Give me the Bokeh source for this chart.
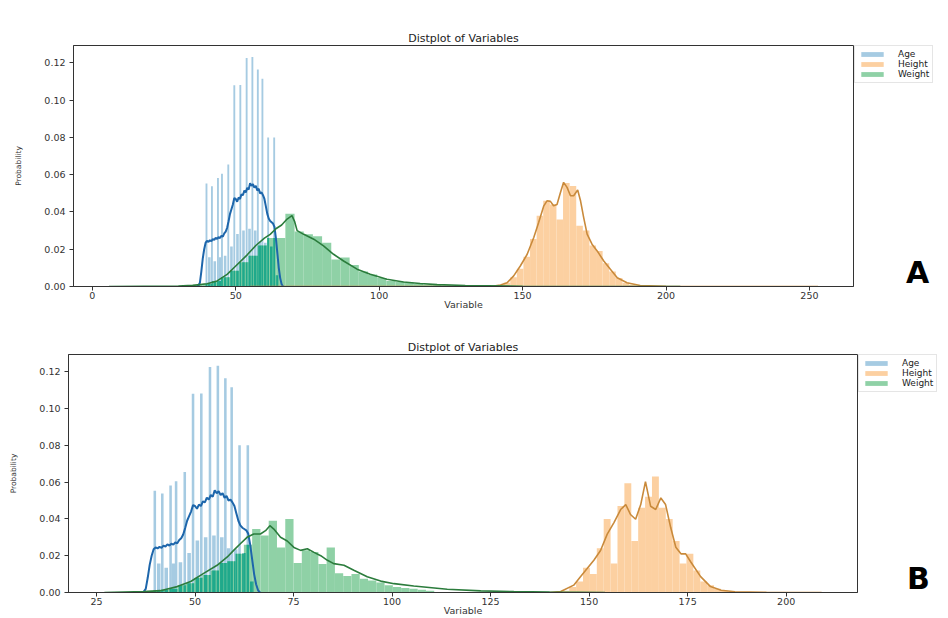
from bokeh.plotting import figure
from bokeh.layouts import column, row
from bokeh.models import (Range1d, FixedTicker, PrintfTickFormatter, Legend,
                          LegendItem, Label)
from bokeh.embed import file_html
from bokeh.resources import INLINE

# ---------------- Age (same sample in both panels) ----------------
# tall narrow bins holding a whole year of age, and the short bins between them
age_peak_x = [39.8, 41.7, 43.8, 45.2, 47.4, 49.5, 51.6, 53.8, 55.8, 57.7, 59.3, 61.3, 63.4]
age_peak_density = [0.0553, 0.0538, 0.0582, 0.0605, 0.0655, 0.1080, 0.1082,
                    0.1226, 0.1232, 0.1165, 0.1115, 0.0800, 0.0800]
age_mid_x = [40.8, 42.7, 44.5, 46.3, 48.5, 50.6, 52.7, 54.8, 56.8, 58.5, 60.3, 62.4, 64.4]
age_mid_density = [0.0157, 0.0135, 0.0157, 0.0165, 0.0215, 0.0282, 0.0300,
                   0.0310, 0.0300, 0.0240, 0.0235, 0.0215, 0.0060]
age_kde_x = [36.5, 37.0, 37.5, 38.0, 38.5, 39.0, 39.5, 40.0, 40.5, 41.0, 41.5, 42.0,
             42.5, 43.0, 43.5, 44.0, 44.5, 45.0, 45.5, 46.0, 46.5, 47.0, 47.5, 48.0,
             48.5, 49.0, 49.5, 50.0, 50.5, 51.0, 51.5, 52.0, 52.5, 53.0, 53.5, 54.0,
             54.5, 55.0, 55.5, 56.0, 56.5, 57.0, 57.5, 58.0, 58.5, 59.0, 59.5, 60.0,
             60.5, 61.0, 61.5, 62.0, 62.5, 63.0, 63.5, 64.0, 64.5, 65.0, 65.5, 66.0, 66.5]
age_kde_y = [0.0, 0.0005, 0.002, 0.008, 0.015, 0.020, 0.0235, 0.0245, 0.0240, 0.0248,
             0.0243, 0.0255, 0.0250, 0.0262, 0.0255, 0.0265, 0.0260, 0.0272, 0.0268,
             0.0285, 0.0295, 0.0315, 0.0350, 0.0390, 0.0415, 0.0440, 0.0475, 0.0470,
             0.0455, 0.0478, 0.0470, 0.0495, 0.0490, 0.0515, 0.0505, 0.0530, 0.0520,
             0.0555, 0.0540, 0.0550, 0.0530, 0.0540, 0.0515, 0.0525, 0.0500, 0.0505,
             0.0490, 0.0470, 0.0430, 0.0390, 0.0365, 0.0352, 0.0345, 0.0338, 0.0320,
             0.0260, 0.0180, 0.0100, 0.0045, 0.0012, 0.0]

# ---------------- Panel A: raw measurements ----------------
height_a_edges = [141.1, 143.4, 145.7, 148.0, 150.3, 152.6, 154.9, 157.2, 159.5, 161.8,
                  164.1, 166.4, 168.7, 171.0, 173.3, 175.6, 177.9, 180.2, 182.5, 184.8,
                  187.1, 189.4, 191.7]
height_a_density = [0.0008, 0.002, 0.005, 0.0095, 0.016, 0.0255, 0.038, 0.046, 0.044,
                    0.036, 0.0555, 0.054, 0.0326, 0.030, 0.022, 0.019, 0.0125, 0.008,
                    0.0045, 0.002, 0.001, 0.0005]
height_a_kde_x = [55, 130, 140, 142.3, 144.6, 146.9, 149.2, 151.6, 153.9, 155.6, 157.4,
                  158.5, 159.7, 160.8, 162.0, 163.2, 164.3, 165.5, 166.7, 167.8, 169.2,
                  170.2, 171.3, 172.5, 174.2, 176.0, 178.3, 180.6, 183.0, 186.4, 191.0,
                  200, 253]
height_a_kde_y = [0, 0, 0.0002, 0.0008, 0.002, 0.0057, 0.011, 0.0173, 0.0263, 0.0343,
                  0.0433, 0.046, 0.0457, 0.0433, 0.044, 0.0505, 0.0559, 0.0532, 0.0487,
                  0.0487, 0.0518, 0.046, 0.037, 0.0281, 0.0227, 0.0191, 0.0137, 0.0093,
                  0.0047, 0.002, 0.0005, 0.0001, 0]
weight_a_edges = [32.1, 35.3, 38.5, 41.7, 44.9, 48.1, 51.3, 54.5, 57.7, 60.9, 64.1, 67.3,
                  70.5, 73.7, 76.9, 80.1, 83.3, 86.5, 89.7, 92.9, 96.1, 99.3, 102.5,
                  105.7, 108.9, 112.1, 115.3, 118.5, 121.7, 124.9]
weight_a_density = [0.0004, 0.0008, 0.0015, 0.003, 0.005, 0.0085, 0.013, 0.0165, 0.022,
                    0.026, 0.026, 0.039, 0.0295, 0.028, 0.027, 0.0235, 0.0145, 0.0155,
                    0.0115, 0.008, 0.0065, 0.0045, 0.003, 0.0025, 0.002, 0.0015, 0.001,
                    0.0008, 0.0005]
weight_a_kde_x = [5.8, 30, 35, 40, 43.5, 47, 50, 54, 57, 60, 62, 64, 66, 67.9, 69.6, 70.5,
                  71.4, 73.7, 77.2, 80.6, 84.1, 87.6, 92.3, 96.9, 102.7, 108.5, 114.3,
                  120.2, 130, 150, 205]
weight_a_kde_y = [0, 0.0002, 0.0006, 0.0015, 0.003, 0.0065, 0.011, 0.017, 0.022, 0.026,
                  0.028, 0.031, 0.033, 0.0362, 0.038, 0.035, 0.030, 0.028, 0.0254, 0.0218,
                  0.0173, 0.0137, 0.0093, 0.0066, 0.0039, 0.0024, 0.0016, 0.001, 0.0005,
                  0.0001, 0]

# ---------------- Panel B: after removing outliers ----------------
height_b_edges = [141.45, 143.2, 144.95, 146.7, 148.45, 150.2, 151.95, 153.7, 155.45,
                  157.2, 158.95, 160.7, 162.45, 164.2, 165.95, 167.7, 169.45, 171.2,
                  172.95, 174.7, 176.45, 178.2, 179.95, 181.7, 183.45, 185.2, 186.95]
height_b_density = [0.0005, 0.001, 0.003, 0.006, 0.0135, 0.010, 0.024, 0.040, 0.0157,
                    0.047, 0.0594, 0.028, 0.046, 0.052, 0.063, 0.046, 0.040, 0.028,
                    0.0157, 0.021, 0.012, 0.006, 0.004, 0.002, 0.001, 0.0005]
height_b_kde_x = [140, 142.8, 146.1, 147.8, 149.5, 151.2, 152.9, 154.6, 156.3, 158.0,
                  159.3, 160.5, 161.8, 163.1, 164.3, 165.6, 166.9, 168.2, 169.4, 170.7,
                  172.0, 173.3, 174.5, 175.8, 178.3, 180.8, 183.5, 187, 195, 209]
height_b_kde_y = [0, 0.0005, 0.004, 0.0086, 0.013, 0.0175, 0.0228, 0.0317, 0.038, 0.0451,
                  0.0478, 0.0424, 0.0398, 0.0478, 0.0603, 0.0469, 0.0451, 0.0514, 0.0478,
                  0.0353, 0.0246, 0.021, 0.021, 0.0166, 0.0086, 0.0032, 0.0012, 0.0004,
                  0.0001, 0]
weight_b_edges = [37.2, 39.3, 41.4, 43.5, 45.6, 47.7, 49.8, 51.9, 54.0, 56.1, 58.2, 60.3,
                  62.4, 64.5, 66.6, 68.7, 70.8, 72.9, 75.0, 77.1, 79.2, 81.3, 83.4, 85.5,
                  87.6, 89.7, 91.8, 93.9, 96.0, 98.1, 100.2, 102.3, 104.4, 106.5, 108.6,
                  110.7]
weight_b_density = [0.0005, 0.001, 0.0015, 0.002, 0.004, 0.005, 0.008, 0.0095, 0.012,
                    0.016, 0.017, 0.021, 0.026, 0.0345, 0.031, 0.039, 0.0245, 0.040,
                    0.016, 0.023, 0.022, 0.0155, 0.0245, 0.0105, 0.009, 0.010, 0.0075,
                    0.0065, 0.0055, 0.004, 0.003, 0.0025, 0.002, 0.0015, 0.001]
weight_b_kde_x = [27, 37, 41.2, 45.5, 48.9, 52.2, 55.6, 58.2, 59.8, 61.5, 63.2, 64.9, 66.6,
                  67.9, 69.0, 70.0, 71.7, 73.4, 75.1, 76.8, 78.5, 80.2, 81.9, 83.6, 85.2,
                  87.8, 90.3, 93.7, 97.1, 100.5, 105.5, 114, 122.5, 130.9, 140, 154]
weight_b_kde_y = [0, 0.0005, 0.001, 0.0032, 0.006, 0.0104, 0.0148, 0.0193, 0.0229, 0.0265,
                  0.030, 0.0318, 0.0318, 0.0336, 0.0363, 0.0345, 0.030, 0.028, 0.0245,
                  0.0229, 0.0238, 0.0218, 0.020, 0.0175, 0.0157, 0.0148, 0.0121, 0.0086,
                  0.0062, 0.0048, 0.0035, 0.0018, 0.0009, 0.0005, 0.0002, 0]

x_ticks_a = [0, 50, 100, 150, 200, 250]
x_ticks_b = [25, 50, 75, 100, 125, 150, 175, 200]
y_ticks = [0.00, 0.02, 0.04, 0.06, 0.08, 0.10, 0.12]
series_labels = ["Age", "Height", "Weight"]
chart_title = "Distplot of Variables"
x_label = "Variable"
y_label = "Probability"

# ---------------- styling ----------------
FONT = "DejaVu Sans"
AGE_FILL, HEIGHT_FILL, WEIGHT_FILL, BOTH_FILL = "#a6cbe2", "#fcd0a1", "#8fd1a6", "#1fa98b"
AGE_LINE, HEIGHT_LINE, WEIGHT_LINE = "#1d66ab", "#c98a3b", "#2b7c3c"
PEAK_W, MID_W = 0.65, 0.9
INK = "#333333"


def overlap_cells(lefts, rights, tops, edges, dens):
    """Region where an age bin and a weight bin cover the same ground."""
    L, R, T = [], [], []
    for l, r, h in zip(lefts, rights, tops):
        for i, d in enumerate(dens):
            a, b = max(l, edges[i]), min(r, edges[i + 1])
            if b > a and d > 0:
                L.append(a)
                R.append(b)
                T.append(min(h, d))
    return L, R, T


def panel(tag, h_edges, h_dens, h_kx, h_ky, w_edges, w_dens, w_kx, w_ky, xticks,
          width, height, left, top, bottom, tag_x):
    lo = min(w_kx[0], h_kx[0], age_kde_x[0])
    hi = max(w_kx[-1], h_kx[-1], age_kde_x[-1])
    pad = 0.05 * (hi - lo)
    ymax = 1.05 * max(max(age_peak_density), max(h_dens), max(w_dens))

    p = figure(width=width, height=height, output_backend="svg", toolbar_location=None,
               x_range=Range1d(lo - pad, hi + pad), y_range=Range1d(0, ymax),
               min_border_left=left, min_border_right=1,
               min_border_top=top, min_border_bottom=bottom)
    p.background_fill_color = "white"
    p.border_fill_color = "white"
    p.grid.visible = False
    p.outline_line_color = INK
    p.outline_line_width = 1

    p.title.text = chart_title
    p.title.align = "center"
    p.title.text_font = FONT
    p.title.text_font_size = "11px"
    p.title.text_font_style = "normal"
    p.title.text_color = "#222222"
    p.title.standoff = 2

    p.xaxis.ticker = FixedTicker(ticks=xticks)
    p.yaxis.ticker = FixedTicker(ticks=y_ticks)
    p.yaxis.formatter = PrintfTickFormatter(format="%.2f")
    for ax in (p.xaxis[0], p.yaxis[0]):
        ax.major_label_text_font = FONT
        ax.major_label_text_font_size = "9.5px"
        ax.major_label_text_color = INK
        ax.major_tick_out = 4
        ax.major_tick_in = 0
        ax.minor_tick_line_color = None
        ax.axis_line_color = INK
        ax.major_tick_line_color = INK
        ax.axis_label_text_font = FONT
        ax.axis_label_text_font_style = "normal"
        ax.axis_label_text_color = INK
    p.xaxis.major_label_standoff = 1
    p.xaxis.axis_label = x_label
    p.xaxis.axis_label_text_font_size = "9.5px"
    p.xaxis.axis_label_standoff = -3
    p.yaxis.major_label_standoff = 4
    p.yaxis.axis_label = y_label
    p.yaxis.axis_label_text_font_size = "7.5px"
    p.yaxis.axis_label_standoff = 18

    peak_l = [x - PEAK_W / 2 for x in age_peak_x]
    peak_r = [x + PEAK_W / 2 for x in age_peak_x]
    mid_l = [x - MID_W / 2 for x in age_mid_x]
    mid_r = [x + MID_W / 2 for x in age_mid_x]

    # histograms
    p.quad(left=peak_l, right=peak_r, top=age_peak_density, bottom=0,
           fill_color=AGE_FILL, line_color=None)
    p.quad(left=mid_l, right=mid_r, top=age_mid_density, bottom=0,
           fill_color=AGE_FILL, line_color=None)
    p.quad(left=h_edges[:-1], right=h_edges[1:], top=h_dens, bottom=0,
           fill_color=HEIGHT_FILL, line_color=None)
    p.quad(left=w_edges[:-1], right=w_edges[1:], top=w_dens, bottom=0,
           fill_color=WEIGHT_FILL, line_color=None)

    oL, oR, oT = overlap_cells(peak_l + mid_l, peak_r + mid_r,
                               age_peak_density + age_mid_density, w_edges, w_dens)
    p.quad(left=oL, right=oR, top=oT, bottom=0, fill_color=BOTH_FILL, line_color=None)

    # density curves
    p.line(age_kde_x, age_kde_y, line_color=AGE_LINE, line_width=2)
    p.line(h_kx, h_ky, line_color=HEIGHT_LINE, line_width=1.6)
    p.line(w_kx, w_ky, line_color=WEIGHT_LINE, line_width=1.6)

    # narrow strip to the right holding the series legend and the panel letter;
    # its quads carry the same bins (outside the strip's view) so the legend
    # gets real swatches
    s = figure(width=948 - width, height=height, output_backend="svg",
               toolbar_location=None, x_axis_location=None, y_axis_location=None,
               x_range=Range1d(0, 1), y_range=Range1d(0, 1),
               min_border=0, min_border_left=0, min_border_right=0,
               min_border_top=0, min_border_bottom=0)
    s.grid.visible = False
    s.outline_line_color = None
    s.background_fill_color = "white"
    s.border_fill_color = "white"
    sw_age = s.quad(left=peak_l, right=peak_r, top=age_peak_density, bottom=0,
                    fill_color=AGE_FILL, line_color=None)
    sw_h = s.quad(left=h_edges[:-1], right=h_edges[1:], top=h_dens, bottom=0,
                  fill_color=HEIGHT_FILL, line_color=None)
    sw_w = s.quad(left=w_edges[:-1], right=w_edges[1:], top=w_dens, bottom=0,
                  fill_color=WEIGHT_FILL, line_color=None)
    legend = Legend(items=[LegendItem(label=lab, renderers=[r])
                           for lab, r in zip(series_labels, (sw_age, sw_h, sw_w))],
                    location="top_left")
    legend.label_text_font = FONT
    legend.label_text_font_size = "9px"
    legend.label_text_color = "#222222"
    legend.glyph_width = 28
    legend.glyph_height = 6
    legend.label_height = 8
    legend.label_standoff = 12
    legend.spacing = -2
    legend.padding = 3
    legend.margin = 0
    legend.border_line_color = "#cccccc"
    legend.background_fill_alpha = 1
    s.add_layout(legend)
    s.add_layout(Label(x=tag_x, y=14, x_units="screen", y_units="screen", text=tag,
                       text_font=FONT, text_font_size="30px", text_font_style="bold",
                       text_color="black", text_align="center",
                       text_baseline="middle"))
    return row(p, s, spacing=0)


rowA = panel("A", height_a_edges, height_a_density, height_a_kde_x, height_a_kde_y,
             weight_a_edges, weight_a_density, weight_a_kde_x, weight_a_kde_y, x_ticks_a,
             width=854, height=314, left=73, top=45, bottom=28, tag_x=63)
rowB = panel("B", height_b_edges, height_b_density, height_b_kde_x, height_b_kde_y,
             weight_b_edges, weight_b_density, weight_b_kde_x, weight_b_kde_y, x_ticks_b,
             width=858, height=304, left=68, top=40, bottom=23, tag_x=60)

layout = column(rowA, rowB, spacing=0)
open("out.html", "w").write(file_html(layout, INLINE))
